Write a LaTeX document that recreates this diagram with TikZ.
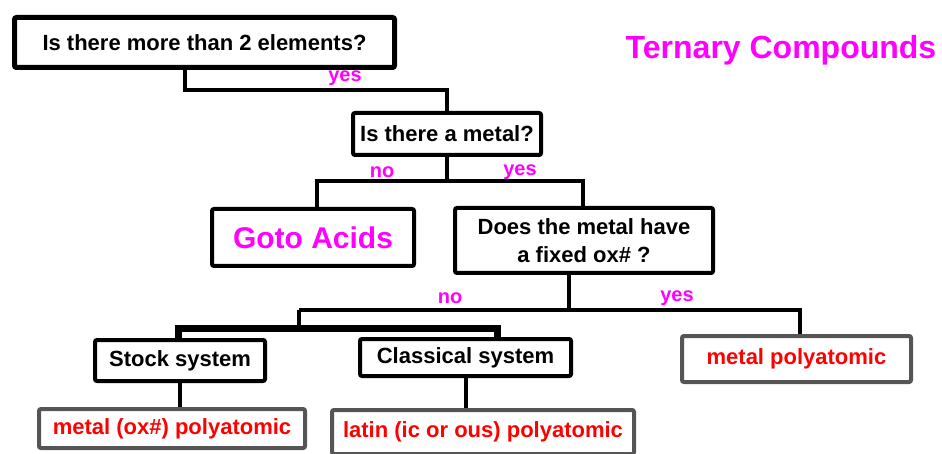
\documentclass[tikz,border=0pt]{standalone}
\usepackage{fontspec}
\setmainfont{Liberation Sans}
\definecolor{pinktxt}{HTML}{FF00FF}
\definecolor{redtxt}{HTML}{FF0000}
\definecolor{boxgray}{HTML}{555555}

\begin{document}
\begin{tikzpicture}[x=1pt, y=-1pt, line width=4pt,
  qbox/.style={draw, rounded corners=2pt, inner sep=0pt, align=center,
    font=\bfseries\fontsize{22}{28}\selectfont},
  ansbox/.style={qbox, draw=boxgray, text=redtxt},
  yn/.style={text=pinktxt, inner sep=0pt, font=\bfseries\fontsize{20}{20}\selectfont}]
  \useasboundingbox (0,0) rectangle (942,454);
  % questions
  \node[qbox, line width=5pt, minimum width=380pt, minimum height=50pt] (more) at (204.5,42.5) {Is there more than 2 elements?};
  \node[qbox, minimum width=188pt, minimum height=42pt] (metal) at (447,134) {Is there a metal?};
  \node[qbox, minimum width=202pt, minimum height=57pt, text=pinktxt,
    font=\bfseries\fontsize{30}{30}\selectfont] (acids) at (313,237.5) {Goto Acids};
  \node[qbox, minimum width=258pt, minimum height=65pt] (fixed) at (584,240.5) {Does the metal have\\a fixed ox\# ?};
  \node[qbox, minimum width=170pt, minimum height=41pt] (stock) at (180,360.5) {Stock system};
  \node[qbox, minimum width=211pt, minimum height=37pt] (classic) at (465.5,357.5) {Classical system};
  % answers
  \node[ansbox, minimum width=229pt, minimum height=46pt] (polyfix) at (796.5,359) {metal polyatomic};
  \node[ansbox, minimum width=266pt, minimum height=39pt] (oxpoly) at (172,428.5) {metal (ox\#) polyatomic};
  \node[ansbox, minimum width=302pt, minimum height=44pt] (latin) at (483,432) {latin (ic or ous) polyatomic};
  \node[text=pinktxt, font=\bfseries\fontsize{32}{32}\selectfont] (title) at (781,50) {Ternary Compounds};
  % branches
  \coordinate (s1) at (185,90);
  \draw (more.south -| s1) -- (s1) -- (s1 -| metal.north) -- (metal.north);
  \coordinate (s2l) at (317,181);
  \coordinate (s2r) at (583,181);
  \draw (metal.south) -- (metal.south |- s2l);
  \draw (acids.north -| s2l) -- (s2l) -- (s2r) -- (fixed.north -| s2r);
  \coordinate (s3l) at (299,310);
  \coordinate (s3m) at (569,310);
  \coordinate (s3r) at (800,310);
  \draw (fixed.south -| s3m) -- (s3m);
  \draw (s3l) -- (s3r) -- (polyfix.north -| s3r);
  \coordinate (s4l) at (178,328);
  \coordinate (s4r) at (497,328);
  \draw (s3l) -- (s3l |- s4l);
  \draw[line width=7pt] (stock.north -| s4l) -- (s4l) -- (s4r) -- (classic.north -| s4r);
  \draw (stock.south) -- (stock.south |- oxpoly.north);
  \draw (classic.south) -- (classic.south |- latin.north);
  % yes / no
  \node[yn] (y1) at (345,78) {yes};
  \node[yn] (n2) at (382,172) {no};
  \node[yn] (y2) at (520,172) {yes};
  \node[yn] (n3) at (450,298) {no};
  \node[yn] (y3) at (677,298) {yes};
\end{tikzpicture}
\end{document}
